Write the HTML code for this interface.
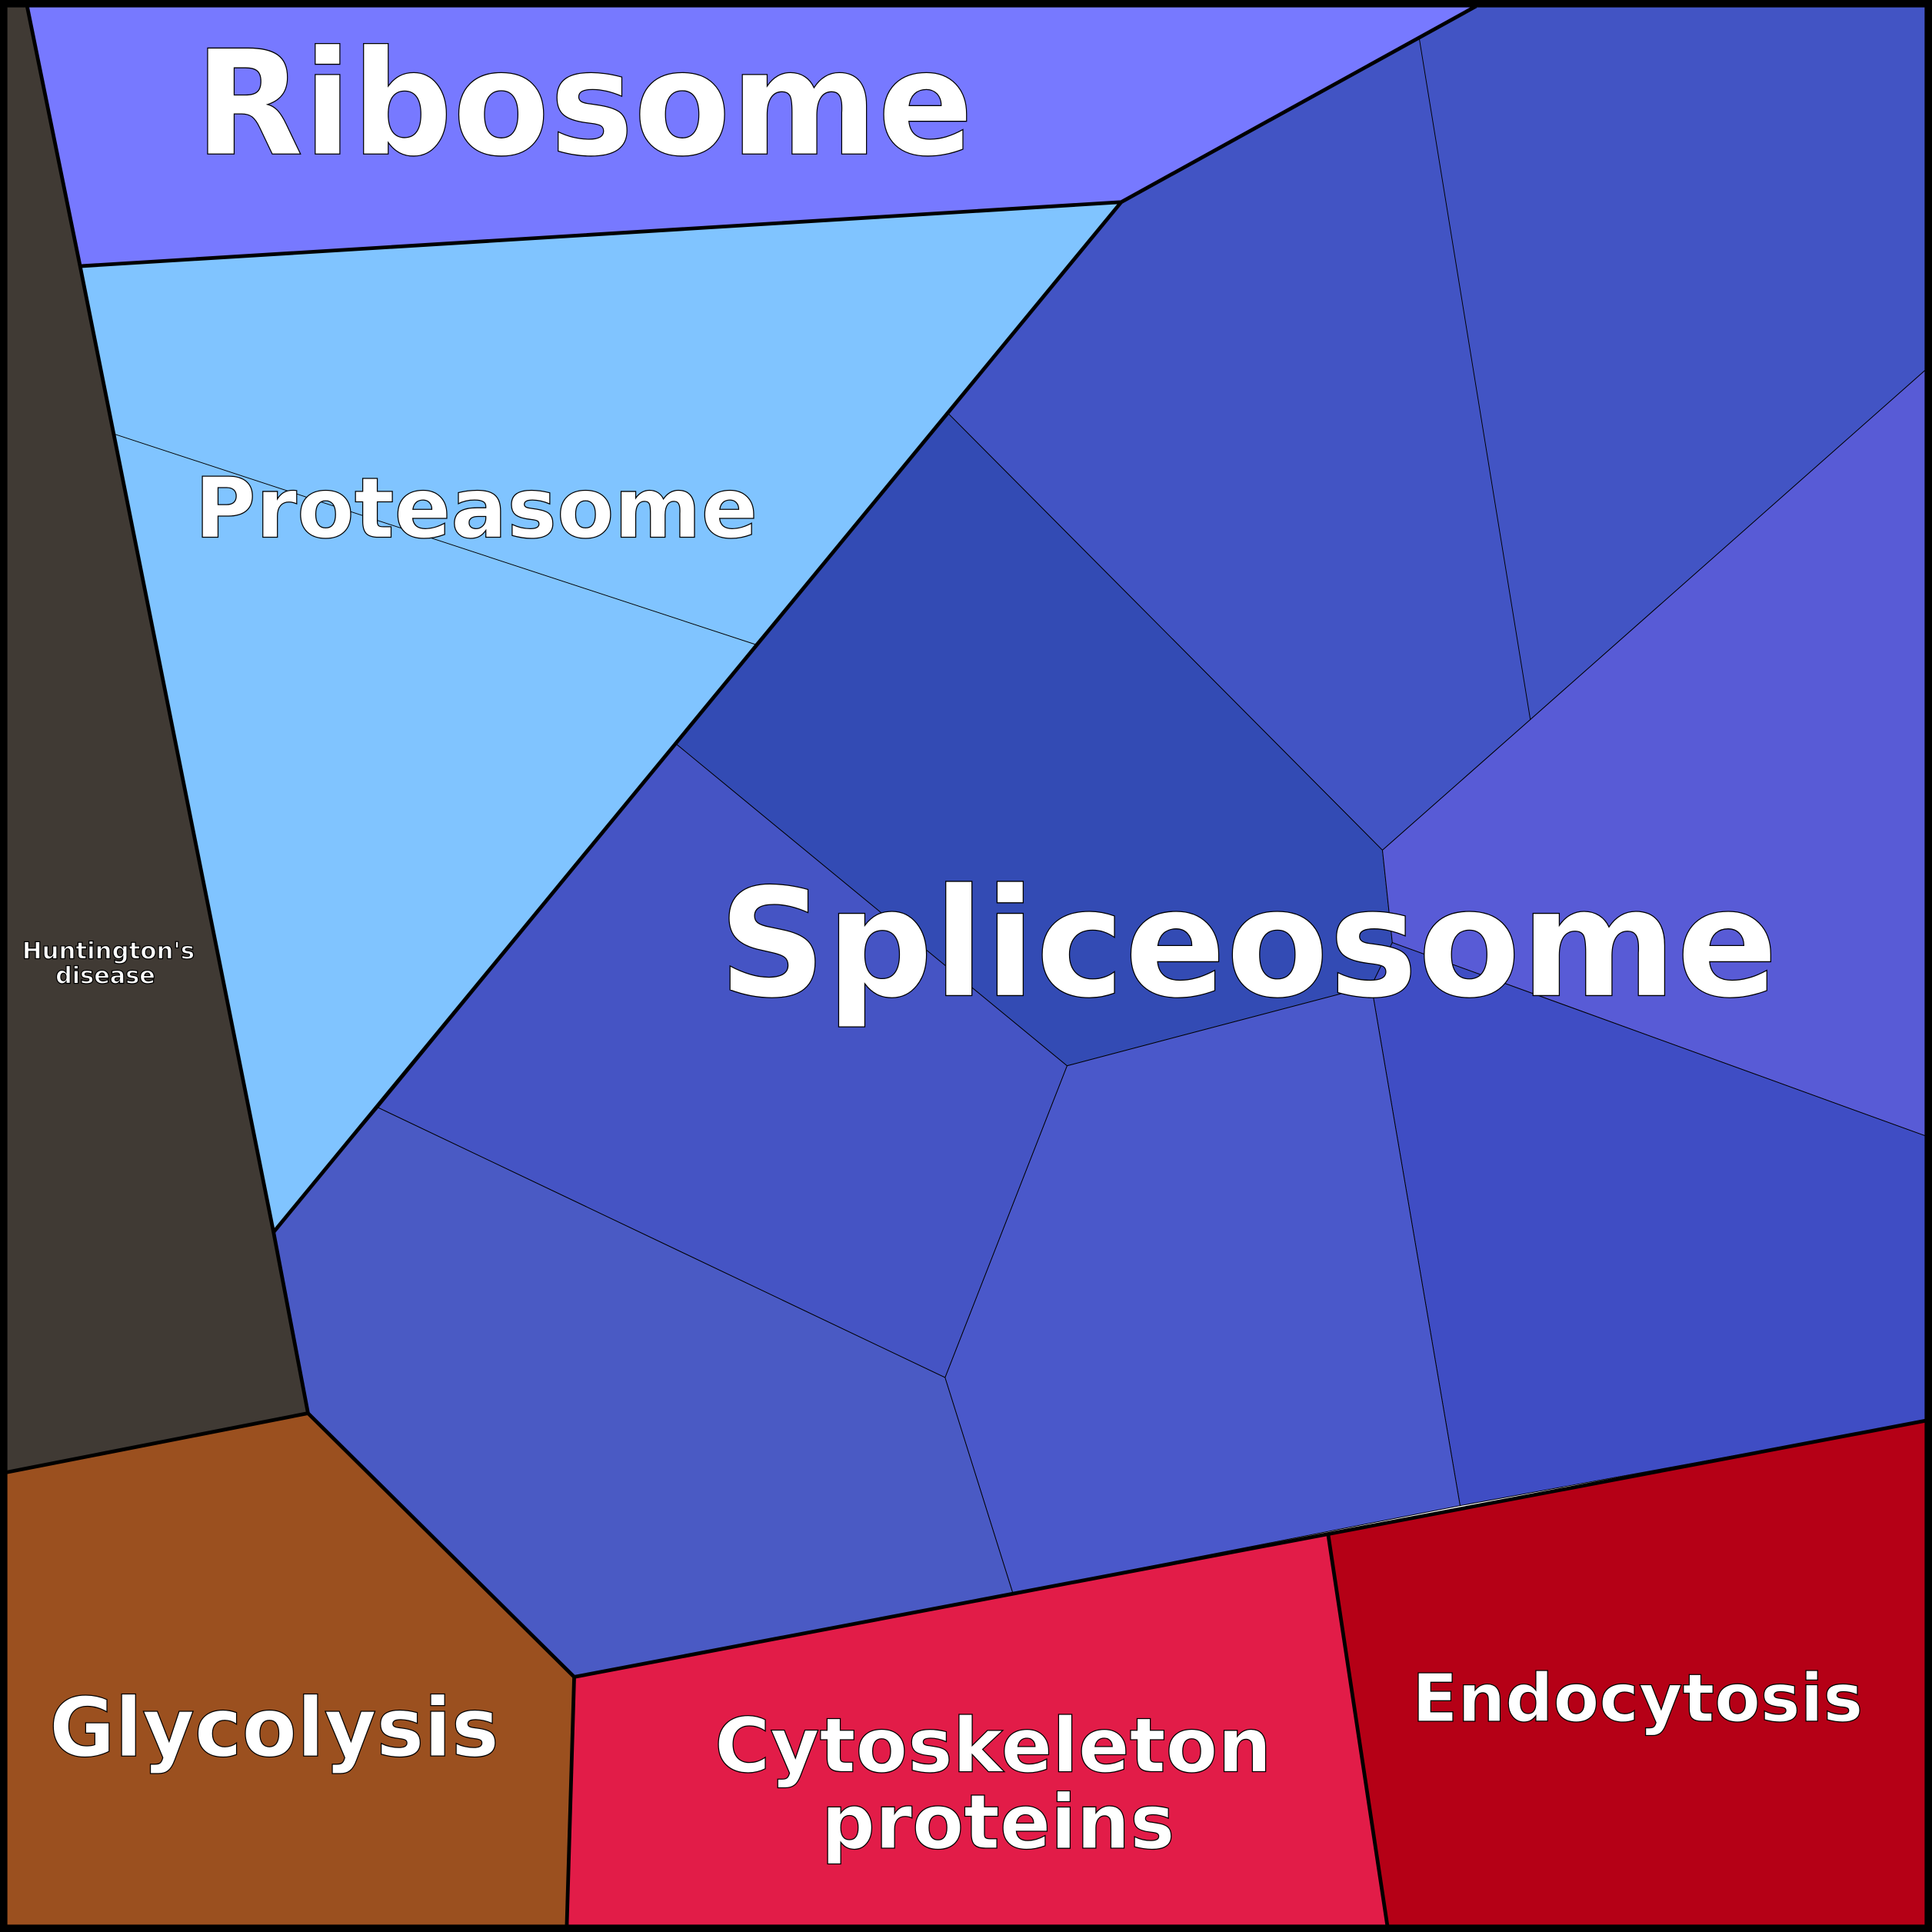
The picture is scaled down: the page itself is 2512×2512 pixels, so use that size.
<!DOCTYPE html>
<html><head><meta charset="utf-8"><style>
html,body{margin:0;padding:0;background:#fff}
svg{display:block}
text{font-family:"DejaVu Sans","Liberation Sans",sans-serif;font-weight:bold;fill:#fff;stroke:#000;stroke-width:0.8;paint-order:fill}
</style></head><body>
<svg width="2512" height="2512" viewBox="0 0 1568 1568" xmlns="http://www.w3.org/2000/svg">
<g stroke="#000" stroke-width="0.6" stroke-linejoin="round">
<polygon fill="#403a34" points="5,5 22,5 65,216 92,352 222,1000 250,1147 5,1195"/>
<polygon fill="#7779ff" points="22,5 1198,5 910,164 65,216"/>
<polygon fill="#80c4ff" points="65,216 910,164 770,336 613,523 549,604 307,899 222,1000"/>
<polygon fill="#4254c4" points="910,164 1198,5 1563,5 1563,300 1242,584 1122,690 770,336"/>
<polygon fill="#334bb4" points="770,336 1122,690 1130,765 1113,800 866,865 549,604 613,523"/>
<polygon fill="#585bd6" points="1242,584 1563,300 1563,922 1130,765 1122,690"/>
<polygon fill="#3f4dc4" points="1130,765 1563,922 1563,1153 1185,1222 1113,800"/>
<polygon fill="#4a58ca" points="866,865 1113,800 1185,1222 822,1293 767,1118"/>
<polygon fill="#4554c4" points="549,604 866,865 767,1118 307,899"/>
<polygon fill="#4a5ac4" points="222,1000 307,899 767,1118 822,1293 466,1361 250,1147"/>
<polygon fill="#9b501f" points="5,1195 250,1147 466,1361 460,1563 5,1563"/>
<polygon fill="#e21c48" points="466,1361 1078,1246 1126,1563 460,1563"/>
<polygon fill="#b50016" points="1078,1246 1563,1153 1563,1563 1126,1563"/>
<line x1="92" y1="352" x2="613" y2="523"/>
<line x1="1152" y1="32" x2="1242" y2="584"/>
</g>
<g fill="none" stroke="#000" stroke-width="3" stroke-linejoin="round">
<polyline points="22,5 65,216 222,1000 250,1147 5,1195"/>
<polyline points="65,216 910,164 1198,5"/>
<polyline points="910,164 222,1000"/>
<polyline points="250,1147 466,1361 1563,1153"/>
<polyline points="466,1361 460,1563"/>
<polyline points="1078,1246 1126,1563"/>
</g>
<rect x="3" y="3" width="1562" height="1562" fill="none" stroke="#000" stroke-width="6"/>
<text x="158" y="125" font-size="118" textLength="632" lengthAdjust="spacingAndGlyphs">Ribosome</text>
<text x="158" y="436" font-size="68" textLength="457" lengthAdjust="spacingAndGlyphs">Proteasome</text>
<text x="583" y="808" font-size="122" textLength="860" lengthAdjust="spacingAndGlyphs">Spliceosome</text>
<text x="18" y="778" font-size="19" stroke-width="0.3" textLength="140" lengthAdjust="spacingAndGlyphs">Huntington's</text>
<text x="45" y="798" font-size="19" stroke-width="0.3" textLength="81" lengthAdjust="spacingAndGlyphs">disease</text>
<text x="40" y="1425" font-size="66" textLength="365" lengthAdjust="spacingAndGlyphs">Glycolysis</text>
<text x="580" y="1438" font-size="61" textLength="452" lengthAdjust="spacingAndGlyphs">Cytoskeleton</text>
<text x="810" y="1500" font-size="61" text-anchor="middle">proteins</text>
<text x="1146" y="1397" font-size="54" textLength="366" lengthAdjust="spacingAndGlyphs">Endocytosis</text>
</svg>
</body></html>
